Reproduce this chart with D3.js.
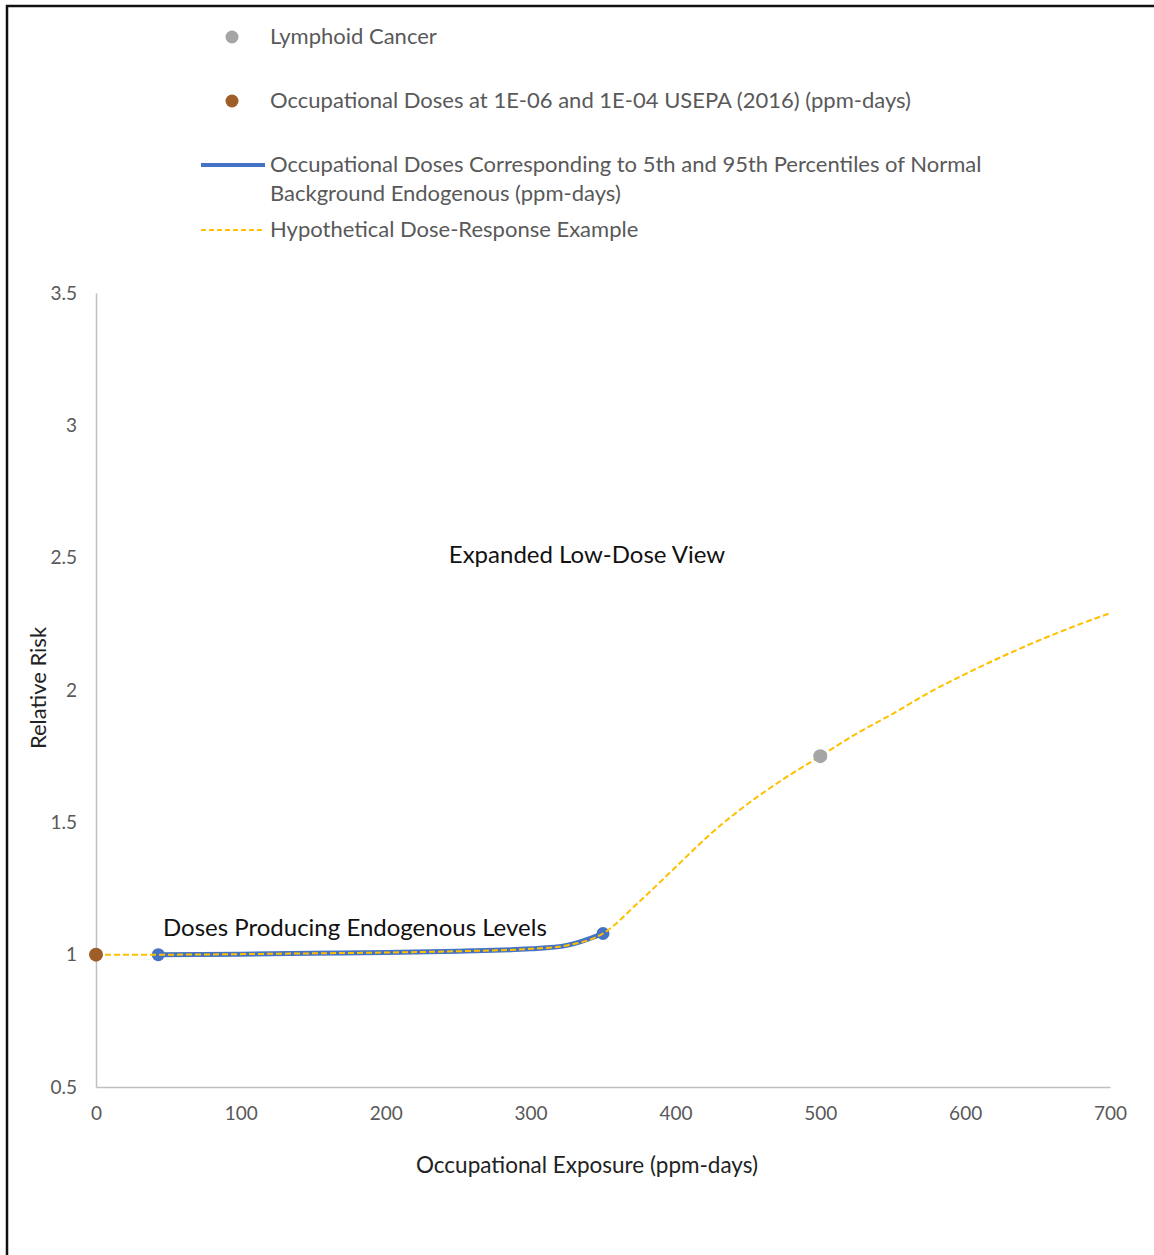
<!DOCTYPE html>
<html>
<head>
<meta charset="utf-8">
<script src="https://cdn.jsdelivr.net/npm/d3@7"></script>
<style>
  html, body { margin: 0; padding: 0; background: #fff; }
  svg { display: block; }
  text { font-family: Lato, "Open Sans", sans-serif; }
</style>
</head>
<body>
<script>
// ---- data ----
const doseResponseX = [0, 43, 100, 150, 200, 250, 300, 325, 350, 375, 400, 425, 450, 475, 500, 525, 550, 575, 600, 625, 650, 675, 700];
const doseResponseY = [1.0, 1.0, 1.002, 1.005, 1.008, 1.013, 1.022, 1.035, 1.08, 1.2, 1.33, 1.46, 1.57, 1.665, 1.75, 1.835, 1.91, 1.99, 2.06, 2.125, 2.185, 2.24, 2.29];
const endogenousX = [43, 100, 150, 200, 250, 300, 325, 350];
const endogenousY = [1.0, 1.002, 1.005, 1.008, 1.013, 1.022, 1.035, 1.08];
const endogenousMarkersX = [43, 350];
const endogenousMarkersY = [1.0, 1.08];
const lymphoidX = [500];
const lymphoidY = [1.75];
const usepaX = [0];
const usepaY = [1.0];
const xTicks = [0, 100, 200, 300, 400, 500, 600, 700];
const yTicks = [0.5, 1, 1.5, 2, 2.5, 3, 3.5];
const legendLabels = [
  ["Lymphoid Cancer"],
  ["Occupational Doses at 1E-06 and 1E-04 USEPA (2016) (ppm-days)"],
  ["Occupational Doses Corresponding to 5th and 95th Percentiles of Normal", "Background Endogenous (ppm-days)"],
  ["Hypothetical Dose-Response Example"]
];

const W = 1154, H = 1255;
const svg = d3.select("body").append("svg").attr("width", W).attr("height", H);

// frame
svg.append("line").attr("x1", 7).attr("x2", 7).attr("y1", 5).attr("y2", H).attr("stroke", "#111").attr("stroke-width", 2.5);
svg.append("line").attr("x1", 6).attr("x2", W).attr("y1", 6).attr("y2", 6).attr("stroke", "#111").attr("stroke-width", 2.5);

const x = d3.scaleLinear().domain([0, 700]).range([96, 1110]);
const y = d3.scaleLinear().domain([0.5, 3.5]).range([1087, 293]);

const gray = "#a5a5a5", brown = "#9e5e27", blue = "#4472c4", gold = "#ffc000", txt = "#595959";

// axes
const xAxis = svg.append("g").attr("transform", `translate(0,${y(0.5)})`)
  .call(d3.axisBottom(x).tickValues(xTicks).tickSize(0).tickPadding(20));
const yAxis = svg.append("g").attr("transform", `translate(${x(0)},0)`)
  .call(d3.axisLeft(y).tickValues(yTicks).tickSize(0).tickPadding(19).tickFormat(d3.format("")));
[xAxis, yAxis].forEach(g => {
  g.select(".domain").attr("stroke", "#bfbfbf").attr("stroke-width", 1.5);
  g.selectAll("text").attr("fill", txt).attr("font-size", 19).attr("font-family", "Lato, sans-serif");
});

const pts = (xs, ys) => xs.map((v, i) => [v, ys[i]]);
const line = d3.line().x(d => x(d[0])).y(d => y(d[1])).curve(d3.curveMonotoneX);

// endogenous blue line
svg.append("path").attr("d", line(pts(endogenousX, endogenousY)))
  .attr("fill", "none").attr("stroke", blue).attr("stroke-width", 5).attr("stroke-linecap", "round");
// blue markers
svg.selectAll(".bm").data(pts(endogenousMarkersX, endogenousMarkersY)).enter().append("circle")
  .attr("cx", d => x(d[0])).attr("cy", d => y(d[1])).attr("r", 6.5).attr("fill", blue);
// dashed dose response
svg.append("path").attr("d", line(pts(doseResponseX, doseResponseY)))
  .attr("fill", "none").attr("stroke", gold).attr("stroke-width", 2).attr("stroke-dasharray", "6,3");
// lymphoid
svg.selectAll(".lm").data(pts(lymphoidX, lymphoidY)).enter().append("circle")
  .attr("cx", d => x(d[0])).attr("cy", d => y(d[1])).attr("r", 7).attr("fill", gray);
// usepa
svg.selectAll(".um").data(pts(usepaX, usepaY)).enter().append("circle")
  .attr("cx", d => x(d[0])).attr("cy", d => y(d[1])).attr("r", 7).attr("fill", brown);

// annotations
svg.append("text").attr("x", 587).attr("y", 563).attr("text-anchor", "middle")
  .attr("font-size", 24).attr("fill", "#111").text("Expanded Low-Dose View");
svg.append("text").attr("x", 163).attr("y", 936)
  .attr("font-size", 24).attr("fill", "#111").text("Doses Producing Endogenous Levels");

// axis titles
svg.append("text").attr("x", 587).attr("y", 1173).attr("text-anchor", "middle")
  .attr("font-size", 22.5).attr("fill", "#222").text("Occupational Exposure (ppm-days)");
svg.append("text").attr("transform", "translate(46,688) rotate(-90)").attr("text-anchor", "middle")
  .attr("font-size", 22).attr("fill", "#222").text("Relative Risk");

// legend
const legY = [37, 101, 165, 230];
const lg = svg.append("g");
lg.append("circle").attr("cx", 232).attr("cy", legY[0]).attr("r", 6.5).attr("fill", gray);
lg.append("circle").attr("cx", 232).attr("cy", legY[1]).attr("r", 6.5).attr("fill", brown);
lg.append("line").attr("x1", 201).attr("x2", 265).attr("y1", legY[2]).attr("y2", legY[2]).attr("stroke", blue).attr("stroke-width", 4);
lg.append("line").attr("x1", 201).attr("x2", 265).attr("y1", legY[3]).attr("y2", legY[3]).attr("stroke", gold).attr("stroke-width", 2).attr("stroke-dasharray", "5,3");
legendLabels.forEach((lines, i) => {
  lines.forEach((t, j) => {
    lg.append("text").attr("x", 270).attr("y", legY[i] + 7 + j * 29)
      .attr("font-size", 22).attr("fill", txt).text(t);
  });
});
</script>
</body>
</html>
